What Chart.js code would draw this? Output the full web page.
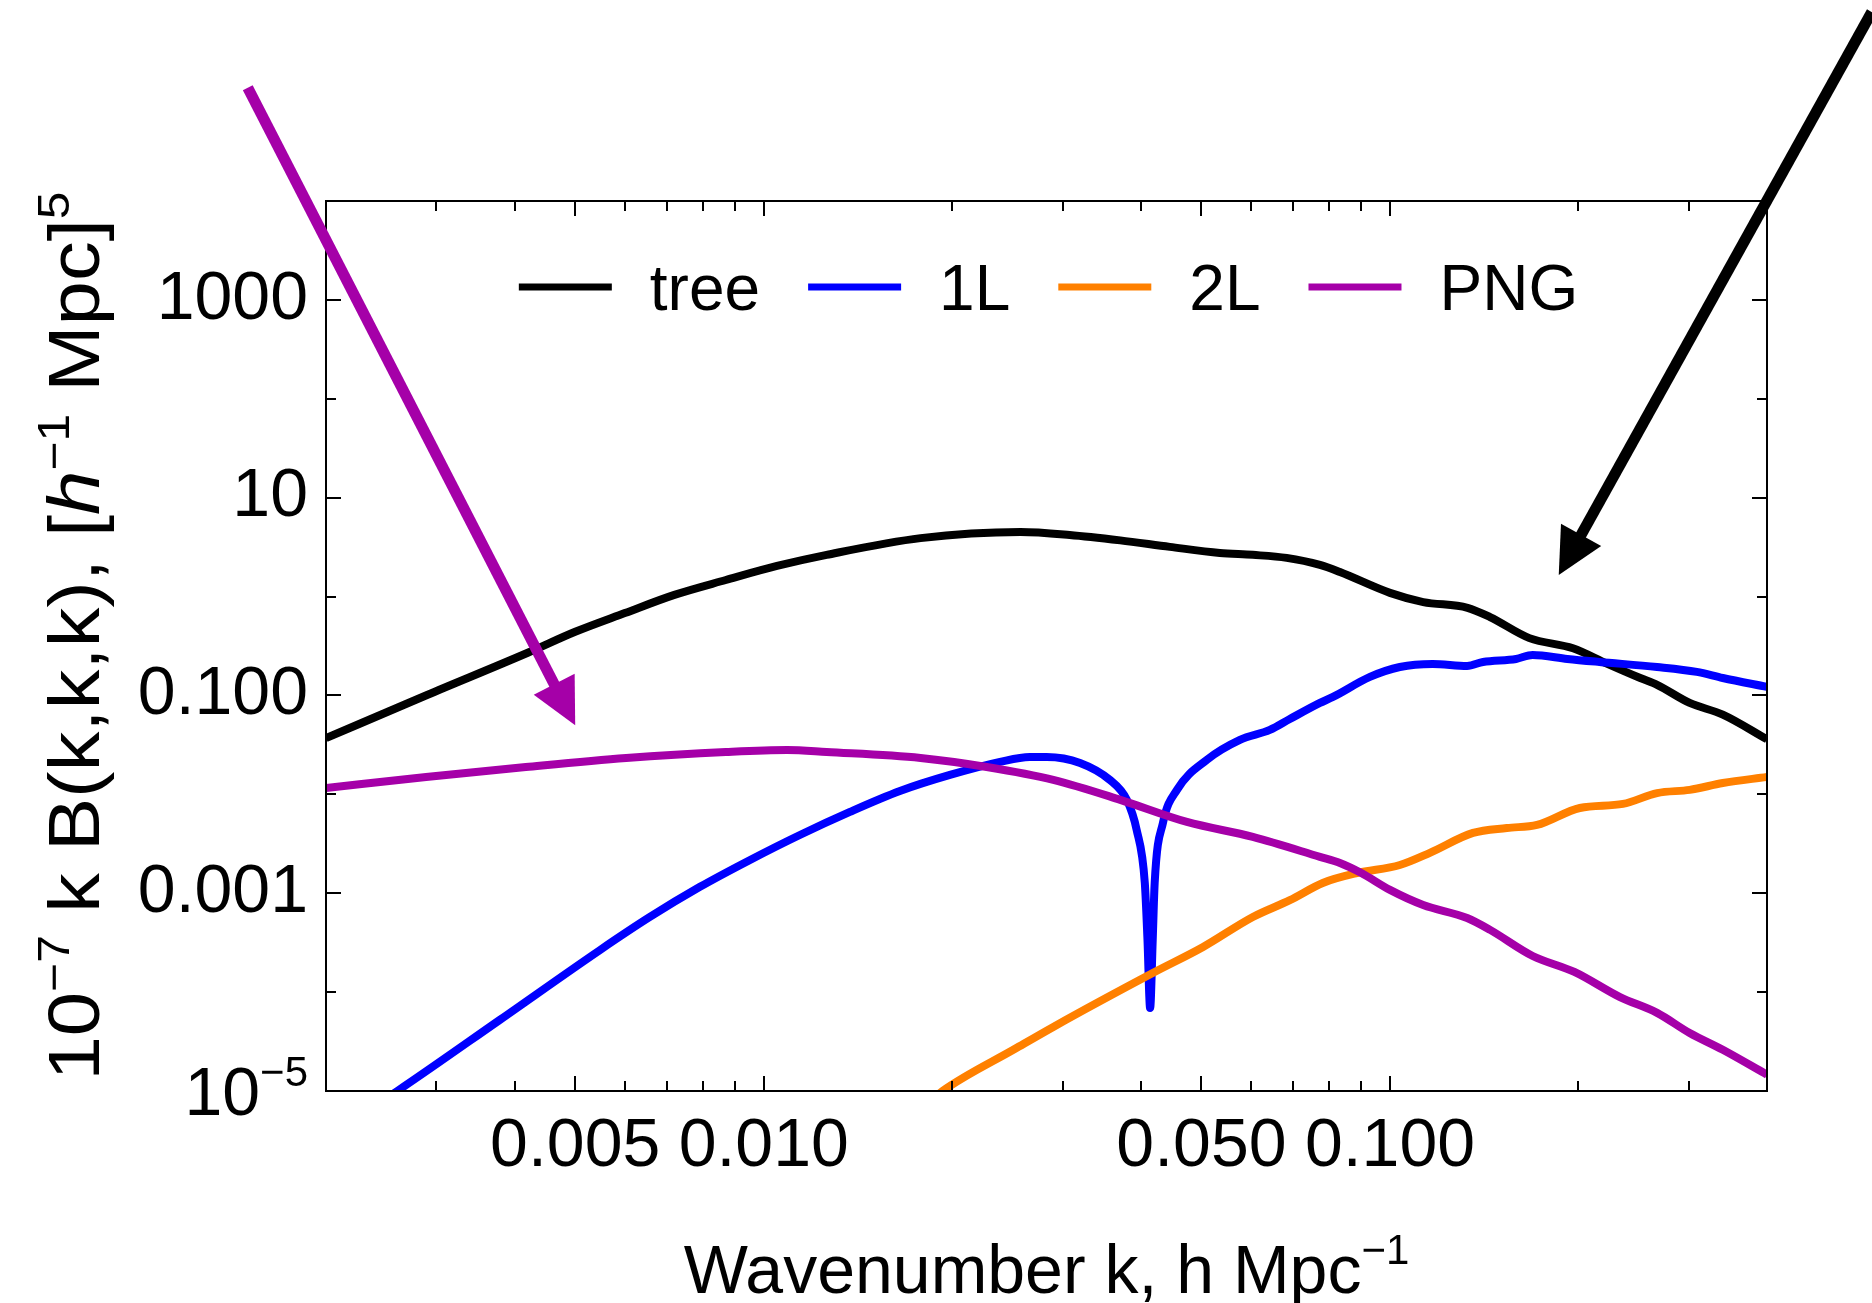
<!DOCTYPE html>
<html>
<head>
<meta charset="utf-8">
<script src="https://cdn.jsdelivr.net/npm/chart.js@4.4.1/dist/chart.umd.min.js"></script>
<style>
    html, body { margin: 0; padding: 0; background: #fff; }
    canvas { display: block; }
</style>
</head>
<body>
<canvas id="chart" width="1872" height="1303"></canvas>
<script>
// values (k in h/Mpc, 1e-7 k B in [h^-1 Mpc]^5)
const treeK = [0.002, 0.0029, 0.0042, 0.005, 0.006, 0.0072, 0.0087, 0.0105, 0.0126, 0.0178, 0.0257, 0.0308, 0.0371, 0.0445, 0.0535, 0.0604, 0.0684, 0.0773, 0.0832, 0.1, 0.113, 0.133, 0.1445, 0.167, 0.196, 0.222, 0.251, 0.267, 0.301, 0.34, 0.4];
const treeV = [0.037, 0.101, 0.27, 0.44, 0.68, 1.04, 1.47, 2.04, 2.64, 3.9, 4.5, 4.2, 3.7, 3.18, 2.76, 2.64, 2.46, 2.09, 1.77, 1.09, 0.88, 0.77, 0.62, 0.38, 0.30, 0.21, 0.15, 0.128, 0.084, 0.064, 0.036];

const oneLoopK = [0.00244, 0.0026, 0.00379, 0.00548, 0.00658, 0.00791, 0.00951, 0.01142, 0.01373, 0.0165, 0.01983, 0.02384, 0.0266, 0.0283, 0.032, 0.0357, 0.038, 0.0394, 0.0406, 0.041, 0.0414, 0.0418, 0.0421, 0.0434, 0.0457, 0.051, 0.0576, 0.0643, 0.0692, 0.0773, 0.0811, 0.0929, 0.1037, 0.117, 0.1328, 0.1408, 0.159, 0.169, 0.192, 0.216, 0.267, 0.309, 0.34, 0.4];
const oneLoopV = [7.7e-6, 1e-5, 5.24e-5, 2.67e-4, 5.75e-4, 1.16e-3, 2.17e-3, 3.88e-3, 6.64e-3, 0.0108, 0.0157, 0.0213, 0.0239, 0.0239, 0.0208, 0.014, 8.8e-3, 4.37e-3, 1.27e-3, 3.4e-4, 6.9e-5, 3.4e-4, 1.27e-3, 5.14e-3, 0.0111, 0.0223, 0.0355, 0.0448, 0.0578, 0.084, 0.0966, 0.154, 0.194, 0.208, 0.199, 0.218, 0.234, 0.257, 0.234, 0.218, 0.194, 0.173, 0.150, 0.122];

const twoLoopK = [0.0185, 0.0193, 0.0252, 0.029, 0.0418, 0.0503, 0.0604, 0.0692, 0.0781, 0.0886, 0.1037, 0.1158, 0.1357, 0.1537, 0.1717, 0.201, 0.2355, 0.267, 0.301, 0.34, 0.4];
const twoLoopV = [8e-6, 1e-5, 2.67e-5, 4.45e-5, 1.56e-4, 2.86e-4, 5.75e-4, 8.5e-4, 1.27e-3, 1.6e-3, 1.93e-3, 2.56e-3, 4.07e-3, 4.57e-3, 4.9e-3, 7.28e-3, 8.0e-3, 0.0103, 0.0111, 0.013, 0.015];

const pngK = [0.002, 0.00289, 0.00417, 0.00603, 0.0087, 0.0109, 0.0126, 0.0178, 0.0227, 0.029, 0.0371, 0.0474, 0.0604, 0.0773, 0.0832, 0.09, 0.1, 0.113, 0.1328, 0.1445, 0.169, 0.197, 0.233, 0.267, 0.301, 0.34, 0.4];
const pngV = [0.0116, 0.015, 0.0189, 0.0233, 0.0268, 0.0281, 0.0268, 0.0233, 0.0189, 0.014, 8.8e-3, 5.26e-3, 3.71e-3, 2.33e-3, 2.02e-3, 1.6e-3, 1.08e-3, 7.6e-4, 5.62e-4, 4.26e-4, 2.32e-4, 1.6e-4, 8.9e-5, 6.17e-5, 3.86e-5, 2.61e-5, 1.46e-5];

const seriesNames = ['tree', '1L', '2L', 'PNG'];
const seriesColors = ['#000000', '#0000ff', '#ff8000', '#a500a8'];

// annotation arrows, in data coordinates
const arrowFromK = [0.0015, 0.588];
const arrowFromV = [1.4e5, 8.15e5];
const arrowToK = [0.005, 0.186];
const arrowToV = [0.05, 1.65];
const arrowColors = ['#a500a8', '#000000'];

// ticks
const xTickValues = [0.002, 0.003, 0.004, 0.005, 0.006, 0.007, 0.008, 0.009, 0.01, 0.02, 0.03, 0.04, 0.05, 0.06, 0.07, 0.08, 0.09, 0.1, 0.2, 0.3, 0.4];
const xLabelValues = [0.005, 0.01, 0.05, 0.1];
const xLabelTexts = ['0.005', '0.010', '0.050', '0.100'];
const yTickValues = [1e-5, 1e-4, 1e-3, 1e-2, 1e-1, 1, 10, 100, 1000, 1e4];
const yLabelValues = [1e-5, 0.001, 0.1, 10, 1000];
const yLabelTexts = [null, '0.001', '0.100', '10', '1000'];

const FONT = "'Liberation Sans', Arial, sans-serif";
const CURVE_WIDTH = 8;
const xTitleParts = [{ text: 'Wavenumber k, h Mpc' }, { text: '\u22121', sup: true }];
const yTitleParts = [
    { text: '10' }, { text: '\u22127', sup: true },
    { text: ' k B(k,k,k), [' }, { text: 'h', italic: true }, { text: '\u22121', sup: true },
    { text: ' Mpc]' }, { text: '5', sup: true },
];
const yBottomParts = [{ text: '10' }, { text: '\u22125', sup: true }];

function partFont(part, size) {
    const s = part.sup ? Math.round(size * 0.62) : size;
    return `${part.italic ? 'italic ' : ''}${s}px ${FONT}`;
}

function richWidth(ctx, parts, size) {
    let w = 0;
    parts.forEach((p) => {
        ctx.font = partFont(p, size);
        w += ctx.measureText(p.text).width;
    });
    return w;
}

function drawRich(ctx, parts, size, x, y) {
    parts.forEach((p) => {
        ctx.font = partFont(p, size);
        ctx.fillText(p.text, x, p.sup ? y - size * 0.42 : y);
        x += ctx.measureText(p.text).width;
    });
}

const toPoints = (ks, vs) => ks.map((k, i) => ({ x: k, y: vs[i] }));

const frameAndTitles = {
    id: 'frameAndTitles',
    afterDraw(chart) {
        const { ctx, chartArea: a, scales: { x, y } } = chart;
        ctx.save();
        ctx.strokeStyle = '#000';
        ctx.lineWidth = 2;
        ctx.strokeRect(a.left, a.top, a.right - a.left, a.bottom - a.top);

        ctx.beginPath();
        xTickValues.forEach((v) => {
            const px = Math.round(x.getPixelForValue(v));
            const len = xLabelValues.includes(v) ? 15 : 10;
            ctx.moveTo(px, a.bottom);
            ctx.lineTo(px, a.bottom - len);
            ctx.moveTo(px, a.top);
            ctx.lineTo(px, a.top + len);
        });
        yTickValues.forEach((v) => {
            const py = Math.round(y.getPixelForValue(v));
            const len = yLabelValues.includes(v) ? 15 : 10;
            ctx.moveTo(a.left, py);
            ctx.lineTo(a.left + len, py);
            ctx.moveTo(a.right, py);
            ctx.lineTo(a.right - len, py);
        });
        ctx.stroke();

        ctx.fillStyle = '#000';
        ctx.textBaseline = 'alphabetic';
        ctx.textAlign = 'left';

        // 10^-5 tick label
        const bw = richWidth(ctx, yBottomParts, 68);
        drawRich(ctx, yBottomParts, 68, a.left - 18 - bw, y.getPixelForValue(1e-5) + 24);

        // x title
        const xw = richWidth(ctx, xTitleParts, 68);
        drawRich(ctx, xTitleParts, 68, (a.left + a.right) / 2 - xw / 2, a.bottom + 202);

        // y title, rotated and stretched along its length
        const yw = richWidth(ctx, yTitleParts, 72);
        ctx.save();
        ctx.translate(a.left - 227, 636);
        ctx.rotate(-Math.PI / 2);
        ctx.scale(889 / yw, 1);
        drawRich(ctx, yTitleParts, 72, -yw / 2, 0);
        ctx.restore();

        // legend inside the frame
        const lineLen = 93;
        const textGap = 38;
        const itemGap = 48;
        ctx.font = `64px ${FONT}`;
        const widths = seriesNames.map((n) => ctx.measureText(n).width);
        const total = widths.reduce((s, w) => s + lineLen + textGap + w, 0) + itemGap * (seriesNames.length - 1);
        let lx = (a.left + a.right) / 2 - total / 2 + 2;
        const ly = a.top + 86;
        seriesNames.forEach((name, i) => {
            ctx.strokeStyle = seriesColors[i];
            ctx.lineWidth = 7;
            ctx.beginPath();
            ctx.moveTo(lx, ly);
            ctx.lineTo(lx + lineLen, ly);
            ctx.stroke();
            ctx.fillStyle = '#000';
            ctx.fillText(name, lx + lineLen + textGap, ly + 23);
            lx += lineLen + textGap + widths[i] + itemGap;
        });

        // arrows
        arrowFromK.forEach((k0, i) => {
            const x0 = x.getPixelForValue(k0);
            const y0 = y.getPixelForValue(arrowFromV[i]);
            const x1 = x.getPixelForValue(arrowToK[i]);
            const y1 = y.getPixelForValue(arrowToV[i]);
            const ang = Math.atan2(y1 - y0, x1 - x0);
            const c = Math.cos(ang);
            const s = Math.sin(ang);
            const head = 46;
            const half = 23;
            const bx = x1 - head * c;
            const by = y1 - head * s;
            ctx.strokeStyle = arrowColors[i];
            ctx.fillStyle = arrowColors[i];
            ctx.lineWidth = 11;
            ctx.beginPath();
            ctx.moveTo(x0, y0);
            ctx.lineTo(bx + 4 * c, by + 4 * s);
            ctx.stroke();
            ctx.beginPath();
            ctx.moveTo(x1, y1);
            ctx.lineTo(bx - half * s, by + half * c);
            ctx.lineTo(bx + half * s, by - half * c);
            ctx.closePath();
            ctx.fill();
        });
        ctx.restore();
    },
};

const lineDataset = (i, ks, vs) => ({
    label: seriesNames[i],
    data: toPoints(ks, vs),
    borderColor: seriesColors[i],
    backgroundColor: seriesColors[i],
    borderWidth: CURVE_WIDTH,
    pointRadius: 0,
    fill: false,
    cubicInterpolationMode: 'monotone',
    borderJoinStyle: 'round',
    order: 3 - i,
});

new Chart(document.getElementById('chart'), {
    type: 'line',
    data: {
        datasets: [
            lineDataset(0, treeK, treeV),
            lineDataset(1, oneLoopK, oneLoopV),
            lineDataset(2, twoLoopK, twoLoopV),
            lineDataset(3, pngK, pngV),
        ],
    },
    options: {
        responsive: false,
        animation: false,
        events: [],
        layout: { padding: { top: 201, right: 105, left: 0, bottom: 0 } },
        elements: {
            line: { borderWidth: CURVE_WIDTH, borderJoinStyle: 'round' },
            point: { radius: 0 },
        },
        plugins: {
            tooltip: { enabled: false },
            legend: { display: false },
        },
        scales: {
            x: {
                type: 'logarithmic',
                min: 0.002,
                max: 0.4,
                grid: { display: false, drawTicks: false },
                border: { display: false },
                afterBuildTicks: (scale) => {
                    scale.ticks = xTickValues.map((v) => ({ value: v }));
                },
                afterFit: (scale) => {
                    scale.height = 212;
                },
                ticks: {
                    autoSkip: false,
                    maxRotation: 0,
                    padding: 15,
                    color: '#000',
                    font: { family: FONT, size: 68 },
                    callback: (value) => {
                        const i = xLabelValues.indexOf(value);
                        return i >= 0 ? xLabelTexts[i] : '';
                    },
                },
            },
            y: {
                type: 'logarithmic',
                min: 1e-5,
                max: 1e4,
                grid: { display: false, drawTicks: false },
                border: { display: false },
                afterBuildTicks: (scale) => {
                    scale.ticks = yTickValues.map((v) => ({ value: v }));
                },
                afterFit: (scale) => {
                    scale.width = 326;
                },
                ticks: {
                    autoSkip: false,
                    padding: 18,
                    color: '#000',
                    font: { family: FONT, size: 68 },
                    callback: (value) => {
                        const i = yLabelValues.indexOf(value);
                        return i >= 0 && yLabelTexts[i] ? yLabelTexts[i] : '';
                    },
                },
            },
        },
    },
    plugins: [frameAndTitles],
});
</script>
</body>
</html>
